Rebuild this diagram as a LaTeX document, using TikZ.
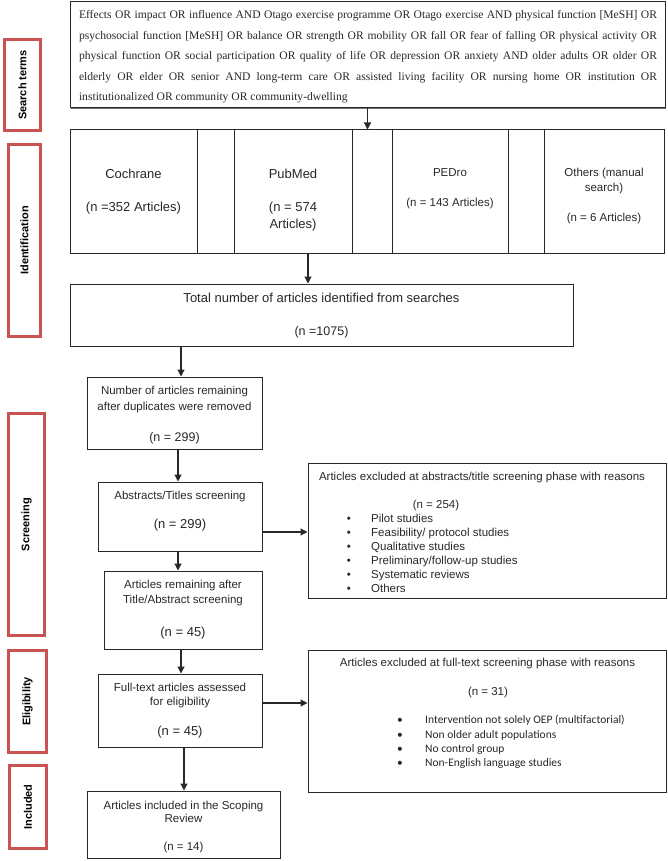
\documentclass[tikz,border=0pt]{standalone}
\usepackage{fontspec}
\setmainfont{Liberation Serif}
\setsansfont{Liberation Sans}
\newfontfamily\calibfont{Carlito}
\usetikzlibrary{arrows.meta,calc,shadows}
\definecolor{labred}{RGB}{201,82,82}
\definecolor{ink}{RGB}{40,40,40}
\begin{document}
\begin{tikzpicture}[x=1pt,y=-1pt,
 box/.style={draw=ink, fill=white, line width=1pt, inner sep=0pt, rectangle,
   drop shadow={shadow xshift=1pt, shadow yshift=-1pt, fill=black!70, opacity=0.8}},
 lab/.style={draw=labred, line width=3pt, inner sep=0pt, rectangle},
 labt/.style={rotate=90, font=\sffamily\bfseries\fontsize{11}{13}\selectfont, text=black, inner sep=0pt},
 arr/.style={draw=ink, line width=1.2pt, -{Triangle[length=7pt,width=7pt]}},
 la/.style={inner sep=0pt, text height=8.3pt, text depth=0pt, text=ink, font=\sffamily\fontsize{11.5}{13}\selectfont},
 lb/.style={la, text height=9.3pt, font=\sffamily\fontsize{13}{15}\selectfont},
 lc/.style={la, text height=8.9pt, font=\sffamily\fontsize{12.5}{14}\selectfont},
 lk/.style={la, text height=7.5pt, font=\calibfont\fontsize{11.5}{13}\selectfont},
]
\useasboundingbox (0,0) rectangle (667,861);

% left phase labels
\node[lab, minimum width=36pt, minimum height=91pt] (st) at (22.5,85) {};
\node[labt] (stt) at (st.center) {Search terms};
\node[lab, minimum width=32pt, minimum height=192pt] (id) at (24.5,240.5) {};
\node[labt] (idt) at (id.center) {Identification};
\node[lab, minimum width=36pt, minimum height=222pt] (sc) at (26.5,524.5) {};
\node[labt] (sct) at (sc.center) {Screening};
\node[lab, minimum width=38pt, minimum height=102pt] (el) at (27.5,701.5) {};
\node[labt] (elt) at (el.center) {Eligibility};
\node[lab, minimum width=37pt, minimum height=83pt] (in) at (28,807) {};
\node[labt] (int) at (in.center) {Included};

% search terms
\node[box, minimum width=595pt, minimum height=106pt] (topbox) at (367.5,55) {};
\node[inner sep=0pt, text width=578pt, align=justify, text=ink,
      font=\fontsize{11.6}{20.5}\selectfont] (toptext) at (368,57)
{\hyphenpenalty=10000 \exhyphenpenalty=10000 \tolerance=10000
Effects OR impact OR influence AND Otago exercise programme OR Otago exercise AND physical function [MeSH] OR\linebreak
psychosocial function [MeSH] OR balance OR strength OR mobility OR fall OR fear of falling OR physical activity OR\linebreak
physical function OR social participation OR quality of life OR depression OR anxiety AND older adults OR older OR\linebreak
elderly OR elder OR senior AND long-term care OR assisted living facility OR nursing home OR institution OR\linebreak
institutionalized OR community OR community-dwelling};

% identification row
\node[box, minimum width=127pt, minimum height=123pt] (coch) at (133.5,191.5) {};
\node[box, minimum width=37pt, minimum height=123pt] (gapa) at (215.5,191.5) {};
\node[box, minimum width=118pt, minimum height=123pt] (pubmed) at (293,191.5) {};
\node[box, minimum width=40pt, minimum height=123pt] (gapb) at (372,191.5) {};
\node[box, minimum width=116pt, minimum height=123pt] (pedro) at (450,191.5) {};
\node[box, minimum width=36pt, minimum height=123pt] (gapc) at (526,191.5) {};
\node[box, minimum width=120pt, minimum height=123pt] (others) at (604,191.5) {};

\node[lb] (coch1) at (133.5,174) {Cochrane};
\node[lb] (coch2) at (133.5,207) {(n =352 Articles)};
\node[lb] (pub1) at (293,174) {PubMed};
\node[lb] (pub2) at (293,207) {(n = 574};
\node[lb] (pub3) at (293,224) {Articles)};
\node[la] (ped1) at (450,172) {PEDro};
\node[la] (ped2) at (450,202) {(n = 143 Articles)};
\node[la] (oth1) at (604,172) {Others (manual};
\node[la] (oth2) at (604,187) {search)};
\node[la] (oth3) at (604,217) {(n = 6 Articles)};

% flow boxes
\node[box, minimum width=503pt, minimum height=62pt] (total) at (321.5,315) {};
\node[lb] (tot1) at (321.5,298) {Total number of articles identified from searches};
\node[lc] (tot2) at (321.5,331) {(n =1075)};

\node[box, minimum width=175pt, minimum height=72pt] (number) at (174.5,413) {};
\node[la] (num1) at (174.5,390) {Number of articles remaining};
\node[la] (num2) at (174.5,406) {after duplicates were removed};
\node[lc] (num3) at (174.5,437) {(n = 299)};

\node[box, minimum width=164pt, minimum height=69pt] (abstr) at (180,516.5) {};
\node[la] (abs1) at (180,495) {Abstracts/Titles screening};
\node[lb] (abs2) at (180,524) {(n = 299)};

\node[box, minimum width=158pt, minimum height=78pt] (remain) at (183,610) {};
\node[la] (rem1) at (183,584) {Articles remaining after};
\node[la] (rem2) at (183,599) {Title/Abstract screening};
\node[lb] (rem3) at (183,632) {(n = 45)};

\node[box, minimum width=164pt, minimum height=73pt] (fullt) at (180,710.5) {};
\node[la] (ful1) at (180,687) {Full-text articles assessed};
\node[la] (ful2) at (180,701) {for eligibility};
\node[lb] (ful3) at (180,731) {(n = 45)};

\node[box, minimum width=193pt, minimum height=67pt] (incl) at (183.5,824.5) {};
\node[la] (inc1) at (183.5,805) {Articles included in the Scoping};
\node[la] (inc2) at (183.5,818) {Review};
\node[la] (inc3) at (183.5,846) {(n = 14)};

% exclusion boxes
\node[box, minimum width=358pt, minimum height=135pt] (excla) at (487,530.5) {};
\node[la] (exa1) at (482,476) {Articles excluded at abstracts/title screening phase with reasons};
\node[la] (exa2) at (436,504) {(n = 254)};
\foreach \t [count=\i] in {Pilot studies, Feasibility/ protocol studies, Qualitative studies, Preliminary/follow-up studies, Systematic reviews, Others}{
  \node[la] (bua\i) at (349,{504+14*\i}) {\textbullet};
  \node[la, anchor=west] (ita\i) at (371,{504+14*\i}) {\t};
}

\node[box, minimum width=358pt, minimum height=142pt] (exclb) at (487,721) {};
\node[la] (exb1) at (487.5,662) {Articles excluded at full-text screening phase with reasons};
\node[la] (exb2) at (488,691) {(n = 31)};
\foreach \t [count=\i] in {Intervention not solely OEP (multifactorial), Non older adult populations, No control group, Non-English language studies}{
  \node[lk] (bub\i) at (400,{705.5+14.4*\i}) {\textbullet};
  \node[lk, anchor=west] (itb\i) at (425,{705.5+14.4*\i}) {\t};
}

% connectors
\draw[arr] (topbox.south) -- (topbox.south |- gapb.north);
\coordinate (c1) at ($(pubmed.south)+(15,0)$);
\draw[arr] (c1) -- (c1 |- total.north);
\coordinate (c2) at ($(number.north)+(6.5,0)$);
\draw[arr] (c2 |- total.south) -- (c2);
\coordinate (c3) at ($(abstr.north)+(-2,0)$);
\draw[arr] (c3 |- number.south) -- (c3);
\coordinate (c4) at ($(abstr.south)+(-2,0)$);
\draw[arr] (c4) -- (c4 |- remain.north);
\coordinate (c5) at ($(fullt.north)+(1,0)$);
\draw[arr] (c5 |- remain.south) -- (c5);
\coordinate (c6) at ($(fullt.south)+(4,0)$);
\draw[arr] (c6) -- (c6 |- incl.north);
\coordinate (c7) at ($(abstr.east)+(0,15.5)$);
\draw[arr] (c7) -- (c7 -| excla.west);
\coordinate (c8) at ($(fullt.east)+(0,-7.5)$);
\draw[arr] (c8) -- (c8 -| exclb.west);
\end{tikzpicture}
\end{document}
